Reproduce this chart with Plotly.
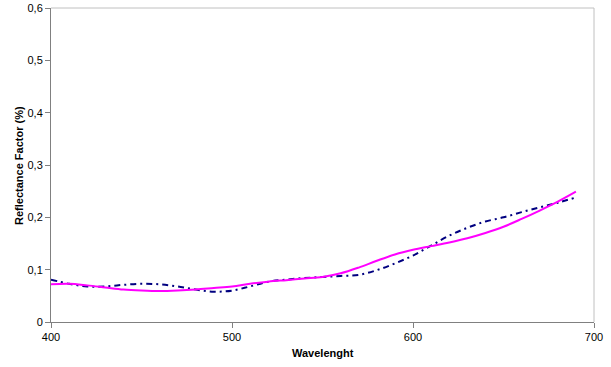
import plotly.graph_objects as go

wavelength = [400, 410, 420, 430, 440, 450, 460, 470, 480, 490, 500, 510, 520, 530, 540,
              550, 560, 570, 580, 590, 600, 610, 620, 630, 640, 650, 660, 670, 680, 690]
series_magenta = [0.072, 0.073, 0.070, 0.066, 0.062, 0.060, 0.059, 0.060, 0.062, 0.065,
                  0.068, 0.073, 0.077, 0.080, 0.083, 0.086, 0.093, 0.104, 0.117, 0.129,
                  0.138, 0.145, 0.152, 0.160, 0.170, 0.182, 0.197, 0.213, 0.230, 0.249]
series_blue = [0.081, 0.073, 0.068, 0.068, 0.071, 0.073, 0.072, 0.068, 0.062, 0.058,
               0.060, 0.068, 0.077, 0.081, 0.084, 0.086, 0.088, 0.090, 0.099, 0.112,
               0.127, 0.146, 0.165, 0.180, 0.192, 0.200, 0.210, 0.219, 0.228, 0.238]

fig = go.Figure()
fig.add_trace(go.Scatter(x=wavelength, y=series_blue, mode="lines",
                         line=dict(color="#000080", width=2, dash="6px,4px,2px,4px", shape="spline"),
                         showlegend=False))
fig.add_trace(go.Scatter(x=wavelength, y=series_magenta, mode="lines",
                         line=dict(color="#FF00FF", width=2, shape="spline"),
                         showlegend=False))

fig.update_layout(
    width=611, height=367,
    margin=dict(l=51, r=17, t=8, b=45),
    paper_bgcolor="white", plot_bgcolor="white",
    separators=",.",
    font=dict(family="Liberation Sans, Arial, sans-serif", size=11, color="black"),
    xaxis=dict(range=[400, 700], dtick=100, tick0=400, showgrid=False, zeroline=False,
               showline=True, linecolor="#808080", linewidth=1, automargin=False,
               ticks="outside", ticklen=5, tickcolor="#808080"),
    yaxis=dict(range=[0, 0.6], dtick=0.1, tick0=0, showgrid=False, zeroline=False,
               showline=True, linecolor="#808080", linewidth=1, automargin=False,
               ticks="outside", ticklen=5, tickcolor="#808080"),
    shapes=[
        dict(type="line", xref="paper", yref="paper", x0=0, x1=1, y0=1, y1=1,
             line=dict(color="#C0C0C0", width=1)),
        dict(type="line", xref="paper", yref="paper", x0=1, x1=1, y0=0, y1=1,
             line=dict(color="#C0C0C0", width=1)),
    ],
    annotations=[
        dict(text="<b>Reflectance Factor (%)</b>", xref="paper", yref="paper",
             x=-0.059, y=0.5, textangle=-90, showarrow=False,
             xanchor="center", yanchor="middle", font=dict(size=11)),
        dict(text="<b>Wavelenght</b>", xref="paper", yref="paper",
             x=0.5, y=-0.099, showarrow=False,
             xanchor="center", yanchor="middle", font=dict(size=11)),
    ],
)
fig.update_yaxes(tickvals=[0, 0.1, 0.2, 0.3, 0.4, 0.5, 0.6],
                 ticktext=["0", "0,1", "0,2", "0,3", "0,4", "0,5", "0,6"])

fig.write_html("out.html")
